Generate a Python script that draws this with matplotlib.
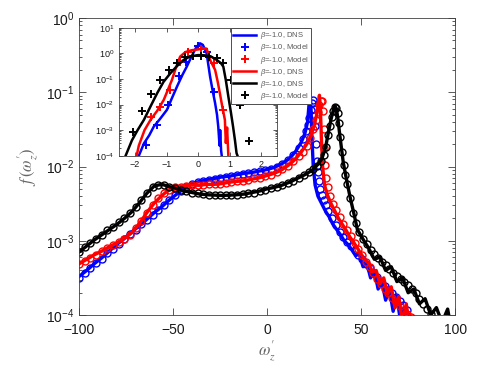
import numpy as np
import matplotlib
matplotlib.use("Agg")
import matplotlib.pyplot as plt
from matplotlib.ticker import NullLocator, LogLocator

# ----------------------------- fonts ------------------------------ #
plt.rcParams['font.family'] = 'Liberation Sans'
plt.rcParams['mathtext.fontset'] = 'custom'
plt.rcParams['mathtext.rm'] = 'Liberation Sans'
plt.rcParams['mathtext.it'] = 'Liberation Sans:italic'
plt.rcParams['mathtext.bf'] = 'Liberation Sans:bold'

# ----------------------------- main plot data (log10 of pdf) ------ #
left_x = [-100, -96, -92, -88, -84, -80, -76, -72, -68, -64, -60, -56, -52,
          -48, -44, -40, -36, -32, -28, -24, -20, -16, -12, -8, -4]

blue_dns_x = left_x + [0, 4, 8, 12, 15, 18, 20, 21.5, 22.3, 22.8, 23.3, 23.8, 24.5,
                       25.5, 27, 29, 31, 33, 35, 37, 39, 41, 43, 45, 47, 49, 51, 53,
                       55, 57, 59, 61, 63, 65, 67, 69, 71, 73, 75]
blue_dns_log = [-3.48, -3.40, -3.31, -3.23, -3.14, -3.05, -2.97, -2.88, -2.80, -2.71,
                -2.62, -2.54, -2.45, -2.37, -2.29, -2.23, -2.20, -2.18, -2.16, -2.14,
                -2.13, -2.11, -2.09, -2.08, -2.06,
                -2.04, -2.01, -1.96, -1.89, -1.80, -1.68, -1.56, -1.40, -1.15, -0.98,
                -1.20, -1.60, -2.00, -2.25, -2.40, -2.50, -2.60, -2.68, -2.78, -2.85,
                -2.92, -3.00, -3.05, -3.12, -3.20, -3.18, -3.35, -3.30, -3.50, -3.40,
                -3.65, -3.55, -3.80, -3.65, -3.95, -3.75, -4.10, -3.90, -4.20]

red_dns_x = left_x + [0, 4, 8, 12, 15, 18, 21, 23, 25, 26.5, 27.3, 27.8, 28.3, 28.8,
                      29.5, 30.5, 32, 34, 36, 38, 40, 42, 44, 46, 48, 50, 52, 54, 56,
                      58, 60, 62, 64, 66, 68, 70, 72, 74, 76]
red_dns_log = [-3.31, -3.25, -3.19, -3.14, -3.08, -3.03, -2.97, -2.89, -2.77, -2.62,
               -2.49, -2.39, -2.31, -2.27, -2.26, -2.25, -2.25, -2.24, -2.24, -2.23,
               -2.21, -2.20, -2.19, -2.17, -2.15,
               -2.12, -2.09, -2.04, -1.97, -1.90, -1.81, -1.70, -1.60, -1.45, -1.28,
               -1.12, -1.04, -1.20, -1.60, -2.00, -2.25, -2.38, -2.50, -2.60, -2.70,
               -2.78, -2.86, -2.95, -3.02, -3.10, -3.18, -3.26, -3.30, -3.42, -3.40,
               -3.58, -3.50, -3.72, -3.62, -3.90, -3.75, -4.10, -3.85, -4.20]

black_dns_x = left_x + [0, 4, 8, 12, 16, 20, 24, 27, 29, 31, 32.5, 34, 35.2, 36, 36.8,
                        37.6, 38.5, 39.5, 40.5, 42, 44, 46, 48, 51, 54, 57, 60, 63, 66,
                        69, 72, 75, 78, 81, 84, 87, 90, 93, 96, 98]
black_dns_log = [-3.15, -3.07, -2.99, -2.92, -2.85, -2.78, -2.70, -2.61, -2.49, -2.36,
                 -2.26, -2.24, -2.27, -2.30, -2.33, -2.35, -2.37, -2.38, -2.385, -2.39,
                 -2.385, -2.38, -2.37, -2.35, -2.33,
                 -2.30, -2.28, -2.25, -2.21, -2.16, -2.11, -2.05, -1.97, -1.90, -1.75,
                 -1.55, -1.36, -1.24, -1.18, -1.22, -1.35, -1.55, -1.75, -1.95, -2.15,
                 -2.40, -2.62, -2.85, -2.98, -3.10, -3.25, -3.22, -3.40, -3.35, -3.55,
                 -3.50, -3.70, -3.65, -3.85, -3.78, -4.00, -3.90, -4.10, -3.92, -4.20]

model_left_x = [-100, -97, -94, -91, -88, -85, -82, -79, -76, -73, -70, -67, -64, -61,
                -58, -55, -52, -49, -46, -43, -40, -37, -34, -31, -28, -25, -22, -19,
                -16, -13, -10, -7, -4, -1, 2, 5, 8, 11, 14, 17]

blue_model_x = model_left_x + [19, 20.5, 21.5, 22.5, 23.3, 24, 24.6, 25.1, 25.5, 25.9,
                               26.3, 26.8, 27.5, 28.3, 29.2, 30.2, 31.3, 32.6,
                               34.5, 36.5, 38.5, 40.5, 42.5, 44.5, 46.5, 48.5, 50.5,
                               52.5, 54.5, 56.5, 58.5, 60.5, 62.5, 64.5, 66.5, 68.5,
                               70.5, 72.5, 74.5]
blue_model_log = [-3.50, -3.43, -3.37, -3.30, -3.24, -3.17, -3.11, -3.04, -2.98, -2.91,
                  -2.85, -2.78, -2.72, -2.65, -2.59, -2.52, -2.45, -2.39, -2.33, -2.28,
                  -2.24, -2.21, -2.19, -2.18, -2.17, -2.15, -2.14, -2.13, -2.11, -2.10,
                  -2.09, -2.08, -2.06, -2.05, -2.03, -2.00, -1.96, -1.91, -1.84, -1.75,
                  -1.63, -1.52, -1.44, -1.34, -1.24, -1.15, -1.10, -1.22, -1.45, -1.70,
                  -1.92, -2.08, -2.20, -2.30, -2.38, -2.45, -2.52, -2.60,
                  -2.70, -2.79, -2.88, -2.95, -3.01, -3.07, -3.13, -3.19, -3.25, -3.31,
                  -3.37, -3.43, -3.49, -3.55, -3.61, -3.66, -3.71, -3.76, -3.81, -3.87,
                  -3.93]

red_model_x = model_left_x + [19, 21, 23, 24.5, 25.8, 26.8, 27.7, 28.4, 29.1, 29.6, 30.0,
                              30.4, 30.9, 31.5, 32.3, 33.5, 35, 36.5,
                              38.5, 40.5, 42.5, 44.5, 46.5, 48.5, 50.5, 52.5, 54.5,
                              56.5, 58.5, 60.5, 62.5, 64.5, 66.5, 68.5, 70.5, 72.5,
                              74.5, 76.5]
red_model_log = [-3.31, -3.27, -3.23, -3.19, -3.14, -3.10, -3.06, -3.02, -2.98, -2.92,
                 -2.83, -2.73, -2.62, -2.52, -2.43, -2.36, -2.31, -2.28, -2.27, -2.26,
                 -2.25, -2.25, -2.25, -2.24, -2.24, -2.23, -2.22, -2.21, -2.20, -2.19,
                 -2.18, -2.16, -2.15, -2.13, -2.11, -2.08, -2.04, -1.99, -1.93, -1.86,
                 -1.80, -1.72, -1.62, -1.50, -1.37, -1.26, -1.17, -1.12, -1.12, -1.25,
                 -1.50, -1.75, -1.98, -2.15, -2.28, -2.40, -2.50, -2.58,
                 -2.68, -2.77, -2.86, -2.94, -3.03, -3.11, -3.19, -3.28, -3.36, -3.44,
                 -3.51, -3.58, -3.65, -3.71, -3.77, -3.83, -3.88, -3.93, -3.98, -4.03]

black_model_x = model_left_x + [19.5, 22, 24.5, 26.5, 28.5, 30, 31.3, 32.5, 33.5, 34.4,
                                35.2, 36, 36.8, 37.5, 38.2, 38.9, 39.7, 40.6, 41.6, 42.7,
                                44, 45.5, 47,
                                49, 51, 53, 55, 57, 59, 61, 63, 65, 67, 69, 71, 73, 75,
                                77, 79, 81, 83, 85, 87, 89]
black_model_log = [-3.15, -3.09, -3.03, -2.97, -2.92, -2.86, -2.81, -2.75, -2.70, -2.63,
                   -2.54, -2.45, -2.36, -2.28, -2.25, -2.25, -2.27, -2.29, -2.31, -2.33,
                   -2.35, -2.36, -2.37, -2.38, -2.385, -2.39, -2.39, -2.385, -2.38, -2.37,
                   -2.36, -2.35, -2.33, -2.31, -2.29, -2.27, -2.25, -2.22, -2.19, -2.15,
                   -2.12, -2.08, -2.04, -1.99, -1.92, -1.85, -1.74, -1.58, -1.45, -1.33,
                   -1.25, -1.20, -1.21, -1.28, -1.42, -1.60, -1.80, -1.98, -2.12, -2.24,
                   -2.42, -2.62, -2.76,
                   -2.88, -2.97, -3.05, -3.12, -3.18, -3.23, -3.28, -3.33, -3.38, -3.43,
                   -3.48, -3.52, -3.56, -3.60, -3.65, -3.71, -3.78, -3.85, -3.92, -3.98,
                   -4.05]

# ----------------------------- inset data (log10 of pdf) ---------- #
in_blue_x = [-1.88, -1.72, -1.55, -1.41, -1.2, -0.99, -0.83, -0.67, -0.5, -0.36, -0.2,
             -0.05, 0.06, 0.15, 0.27, 0.38, 0.46, 0.54, 0.6, 0.64, 0.68, 0.7, 0.73, 0.75]
in_blue_log = [-4.0, -3.52, -3.2, -2.87, -2.55, -2.21, -1.75, -1.30, -0.85, -0.52, -0.1,
               0.25, 0.39, 0.33, 0.0, -0.91, -1.45, -1.95, -2.4, -2.87, -3.6, -3.0, -3.8, -4.0]

in_red_x = [-1.95, -1.88, -1.7, -1.51, -1.3, -1.09, -0.95, -0.83, -0.7, -0.57, -0.4, -0.2,
            0.0, 0.15, 0.27, 0.38, 0.54, 0.62, 0.69, 0.77, 0.85, 0.88, 0.92, 0.96]
in_red_log = [-4.0, -3.6, -3.0, -2.6, -2.25, -1.82, -1.4, -1.04, -0.55, -0.13, 0.05, 0.12,
              0.15, 0.2, 0.18, -0.26, -0.65, -1.1, -1.56, -2.1, -2.6, -3.5, -2.9, -4.0]

in_black_x = [-2.3, -2.1, -1.92, -1.72, -1.5, -1.3, -1.1, -0.88, -0.67, -0.46, -0.25, 0.0,
              0.2, 0.4, 0.59, 0.72, 0.8, 0.88, 0.96, 1.04, 1.11, 1.17, 1.22, 1.25]
in_black_log = [-4.0, -3.4, -3.0, -2.6, -2.05, -1.56, -1.12, -0.78, -0.5, -0.26, -0.12,
                -0.07, -0.08, -0.12, -0.26, -0.38, -0.52, -1.05, -1.69, -2.3, -2.87,
                -3.4, -3.9, -4.0]

in_blue_model_x = [-1.65, -1.3, -0.95, -0.62, -0.38, 0.0, 0.28, 0.5]
in_blue_model_log = [-3.6, -2.8, -2.0, -0.9, -0.33, 0.3, 0.05, -1.5]

in_red_model_x = [-1.51, -1.2, -0.88, -0.57, -0.31, 0.1, 0.5, 0.8]
in_red_model_log = [-2.47, -2.08, -1.43, -0.35, 0.06, 0.15, -0.39, -2.21]

in_black_model_x = [-2.06, -1.77, -1.48, -1.2, -0.92, -0.67, -0.4, -0.15, 0.1, 0.35,
                    0.6, 0.8, 1.03, 1.32, 1.62]
in_black_model_log = [-3.06, -2.25, -1.6, -1.04, -0.65, -0.39, -0.15, -0.1, -0.12,
                      -0.15, -0.2, -0.39, -1.04, -2.02, -3.42]

legend_labels = [r"$\beta$=-1.0, DNS", r"$\beta$=-1.0, Model", r"$\beta$=-1.0, Model",
                 r"$\beta$=-1.0, DNS", r"$\beta$=-1.0, DNS", r"$\beta$=-1.0, Model"]


def p(v):
    return np.power(10.0, np.asarray(v, dtype=float))


def style_axes(ax, size, major_len, minor_len, xpad):
    for s in ax.spines.values():
        s.set_color('0.25')
        s.set_linewidth(0.6)
    ax.tick_params(which='both', direction='in', top=True, right=True,
                   colors='0.25', labelcolor='0.1', labelsize=size, width=0.6)
    ax.tick_params(which='major', length=major_len)
    ax.tick_params(which='minor', length=minor_len)
    ax.tick_params(axis='x', pad=xpad)
    ax.xaxis.set_minor_locator(NullLocator())


# ----------------------------- figure ----------------------------- #
fig = plt.figure(figsize=(4.98, 3.69), dpi=100)
ax = fig.add_axes([0.159, 0.1463, 0.755, 0.8048])

mk = dict(marker='o', markersize=5, markerfacecolor='none', markeredgewidth=1.0,
          ls='none')

ax.plot(blue_dns_x, p(blue_dns_log), color='b', lw=2.4)
ax.plot(blue_model_x, p(blue_model_log), color='b', **mk)
ax.plot(red_dns_x, p(red_dns_log), color='r', lw=2.4)
ax.plot(red_model_x, p(red_model_log), color='r', **mk)
ax.plot(black_dns_x, p(black_dns_log), color='k', lw=2.4)
ax.plot(black_model_x, p(black_model_log), color='k', **mk)

ax.set_yscale('log')
ax.set_xlim(-100, 100)
ax.set_ylim(1e-4, 1)
ax.set_xticks([-100, -50, 0, 50, 100])
ax.yaxis.set_major_locator(LogLocator(base=10, numticks=10))
ax.yaxis.set_minor_locator(LogLocator(base=10, subs=np.arange(2, 10), numticks=20))
style_axes(ax, 10, 5, 2.5, 6)
ax.set_xlabel(r"$\omega^{\prime}_z$", fontsize=12, color='0.4', math_fontfamily='stix',
              labelpad=1)
ax.set_ylabel(r"$f\,(\omega^{\prime}_z)$", fontsize=12, color='0.4',
              math_fontfamily='stix', labelpad=4)

# ----------------------------- inset ------------------------------ #
ins = fig.add_axes([0.2396, 0.578, 0.3164, 0.347])
ins.set_facecolor('white')
pl = dict(marker='+', markersize=6, markeredgewidth=1.4, ls='none')
h1, = ins.plot(in_blue_x, p(in_blue_log), color='b', lw=1.8)
h2, = ins.plot(in_blue_model_x, p(in_blue_model_log), color='b', **pl)
h3, = ins.plot(in_red_model_x, p(in_red_model_log), color='r', **pl)
h4, = ins.plot(in_red_x, p(in_red_log), color='r', lw=1.8)
h5, = ins.plot(in_black_x, p(in_black_log), color='k', lw=1.8)
h6, = ins.plot(in_black_model_x, p(in_black_model_log), color='k', **pl)
ins.set_yscale('log')
ins.set_xlim(-2.5, 2.5)
ins.set_ylim(1e-4, 10)
ins.set_xticks([-2, -1, 0, 1, 2])
ins.yaxis.set_major_locator(LogLocator(base=10, numticks=10))
ins.yaxis.set_minor_locator(LogLocator(base=10, subs=np.arange(2, 10), numticks=20))
style_axes(ins, 6.5, 3, 1.5, 3)

leg = ins.legend([h1, h2, h3, h4, h5, h6], legend_labels, loc='upper left',
                 bbox_to_anchor=(0.464, 0.924), bbox_transform=fig.transFigure,
                 fontsize=5.5, handlelength=3.0, handletextpad=0.5, labelspacing=0.15,
                 borderpad=0.3, borderaxespad=0, fancybox=False, framealpha=1)
leg.get_frame().set_edgecolor('0.3')
leg.get_frame().set_linewidth(0.7)
for t in leg.get_texts():
    t.set_color('0.35')

fig.savefig('out.png', dpi=100)
